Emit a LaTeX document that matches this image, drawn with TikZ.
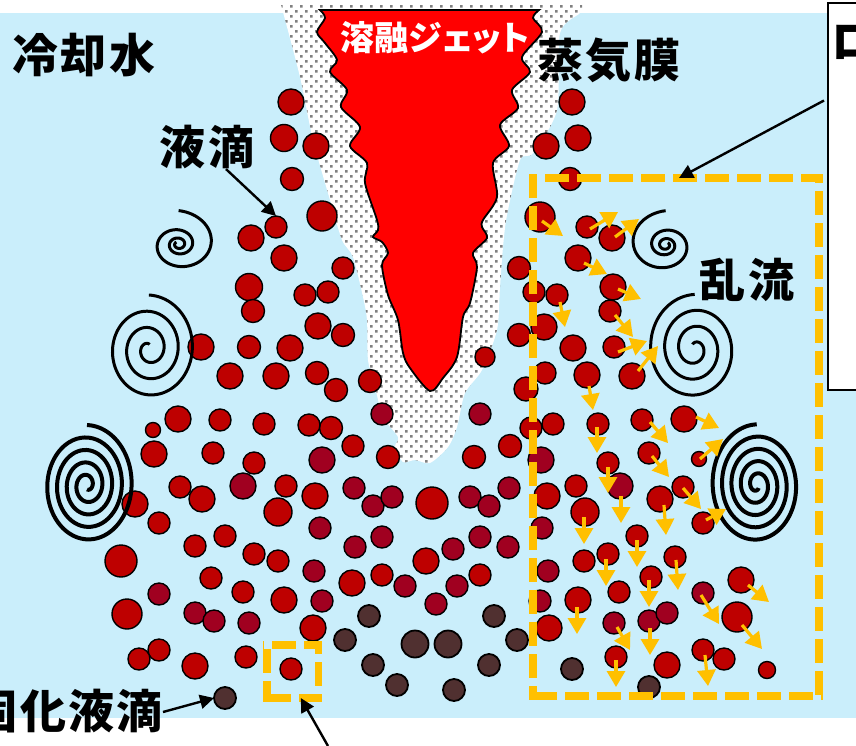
\documentclass[tikz,border=0pt]{standalone}
\usepackage{fontspec}
\usetikzlibrary{arrows.meta}
\newfontfamily\cjk{Noto Sans CJK JP}[LetterSpace=5]
\newfontfamily\cjkp{Noto Sans CJK JP}[RawFeature=+palt]
\definecolor{seawater}{HTML}{CAEEFB}
\definecolor{dropred}{HTML}{BE0000}
\definecolor{dropplum}{HTML}{A00020}
\definecolor{dropdark}{HTML}{503030}
\definecolor{flowor}{HTML}{FFC000}
\definecolor{dotgrey}{HTML}{808080}
\tikzset{
  drop/.style={circle,draw=black,line width=1.4pt,inner sep=0pt,outer sep=0pt},
  redd/.style={drop,fill=dropred},
  plumd/.style={drop,fill=dropplum},
  darkd/.style={drop,fill=dropdark,line width=1.8pt},
  swirl/.style={draw=black,line cap=butt,line join=round},
  flow/.style={draw=flowor,line width=3.2pt,-{Triangle[length=16pt,width=18pt]}},
  zoneside/.style={draw=flowor,line width=7.5pt},
  zonemark/.style={inner sep=0pt,outer sep=0pt},
  lead/.style={draw=black,line width=2.4pt,-{Triangle[length=14pt,width=14pt]}},
  biglabel/.style={font=\cjk\bfseries\fontsize{46}{46}\selectfont,text=black,inner sep=0pt},
}
% linear spiral: centre x, centre y, x squeeze, start radius, pitch, side, end angle
\newcommand{\linswirl}[7]{\draw[swirl] plot[domain=0:#7,samples=260,variable=\ang,smooth] ({#1+#6*#3*(#4-#5*(\ang/360))*sin(\ang)},{#2-(#4-#5*(\ang/360))*cos(\ang)});}
% shrinking spiral: centre x, centre y, x squeeze, start radius, ratio per turn, side, end angle
\newcommand{\logswirl}[7]{\draw[swirl] plot[domain=0:#7,samples=200,variable=\ang,smooth] ({#1+#6*#3*#4*pow(#5,\ang/360)*sin(\ang)},{#2-#4*pow(#5,\ang/360)*cos(\ang)});}
\begin{document}
\begin{tikzpicture}[x=1pt,y=-1pt]
\useasboundingbox (0,0) rectangle (856,745);
\fill[white] (0,0) rectangle (856,745);
\fill[seawater] (0,13) rectangle (856,718);
% vapour film
\def\filmshape{plot[smooth,tension=.45] coordinates {(281,5)(283,12)(300,77)(313,140)(330,200)(342,240)(353,257)(363,297)(367,320)(368,360)(375,387)(383,417)(398,437)(395,447)(403,462)(415,460)(430,463)(448,447)(457,427)(465,393)(482,370)(497,330)(500,287)(503,247)(507,215)(520,160)(533,153)(557,110)(560,33)(580,13)(582,5)} -- cycle}
\fill[white] \filmshape;
\begin{scope}
\clip \filmshape;
\fill[dotgrey]
 \foreach \yy in {5,15,...,470}{\foreach \xx in {280,290,...,590}{(\xx,\yy) rectangle ++(2.5,2.5)}}
 \foreach \yy in {10,20,...,470}{\foreach \xx in {285,295,...,590}{(\xx,\yy) rectangle ++(2.5,2.5)}};
\end{scope}
% jet
\filldraw[fill=red,draw=black,line width=1.8pt] plot[smooth,tension=.5] coordinates {(320,10)(325,18)(317,32)(325,43)(337,60)(330,72)(347,90)(341,107)(360,127)(350,146)(367,163)(365,183)(377,220)(378,230)(373,237)(382,242)(388,253)(382,265)(388,295)(398,320)(403,353)(410,368)(430,391)(443,378)(457,357)(463,317)(470,303)(477,267)(473,253)(487,238)(482,227)(483,220)(497,197)(493,163)(509,146)(500,125)(518,108)(512,90)(530,72)(522,57)(542,32)(533,18)(539,10)} -- cycle;
\draw[black,line width=2.6pt] (320,10) -- (539,10);
\node[text=white,inner sep=0pt,font=\cjkp\bfseries\fontsize{34}{34}\selectfont] (jetlabel) at (435,38) {溶融ジェット};
% droplets
\foreach \xx/\yy/\rr [count=\n] in {
291/102/13,284/138/13.5,316/146/13,292/179/11.5,322/216/15,572/102/13,578/138/13,546/146/13,570/179/11.5,540/217/15,
251/238/13,284/258/13,249/287/13.5,253/311/11.5,343/268/11,305/295/11,328/292/11,318/326/13,343/335/11.5,249/347/11.5,290/348/13,230/376/13,276/376/13,317/373/11.5,336/390/11.5,370/381/11.5,201/347/13,
485/357/10,331/428/11.5,353/446/11,388/457/11.5,474/457/11.5,510/446/11.5,
519/268/11.5,534/292/11,557/295/11,544/327/13,573/348/13,519/335/11.5,526/389/12,545/373/11,531/428/11,553/424/11,547/496/13,549/628/13,
432/503/16,426/561/13,352/583/13,382/575/11,480/575/11,
178/419/13,153/430/7.5,154/454/13,220/420/11,213/453/11,264/424/11,309/425/11,254/463/11,180/487/11,202/499/13,286/486/11,315/496/13,278/512/14,135/504/13,159/523/11,195/546/11,225/536/11,254/554/11,278/561/11,121/561/16,127/614/15,211/578/11,243/592/11,284/600/13,313/628/13,159/650/11,139/659/11,195/666/13,246/657/11,291/669/11,
587/227/11,612/238/13,578/258/13,613/287/13,610/311/11,614/347/11,632/376/13,587/375/13,598/424/11,642/420/11,684/419/13,
608/463/11,649/453/11,699/459/7.5,576/486/11,585/512/14,660/499/13,683/487/11,703/523/11,637/536/11,608/554/11,584/561/11,675/557/11,651/577/11,619/592/11,578/600/13,741/580/13,737/617/15,616/657/11,667/665/13,703/650/11,724/659/11,767/670/8.5}
{\node[redd,minimum size=2*\rr*1pt] (red\n) at (\xx,\yy) {};}
\foreach \xx/\yy/\rr [count=\n] in {
382/414/11,480/414/11,541/460/13,322/460/13,243/486/13,354/488/11,373/506/11,392/497/11,470/497/11,489/506/11,509/488/11,355/547/11,382/537/11,453/549/11,480/537/11,508/547/11,405/586/11,457/586/11,436/604/11,320/528/11,314/571/11,159/594/11,322/601/11,195/613/11,214/621/11,249/623/11,
620/486/13,542/528/11,548/571/11,540/601/11,614/623/11,649/621/11,667/613/11,703/593/11}
{\node[plumd,minimum size=2*\rr*1pt] (plum\n) at (\xx,\yy) {};}
\foreach \xx/\yy/\rr [count=\n] in {
369/616/11,345/640/11,415/644/13.5,448/644/13.5,494/616/11,517/640/11,373/665/11,489/665/11,397/685/11,454/690/11,572/669/11,649/687/11}
{\node[darkd,minimum size=2*\rr*1pt] (dark\n) at (\xx,\yy) {};}
\node[redd,minimum size=22pt] (dropA) at (276,227) {};
\node[darkd,minimum size=22pt] (dropS) at (225,698) {};
% swirls
\begin{scope}[line width=3pt]
\logswirl{178.6}{244.3}{1.188}{33.7}{.43}{1}{1040}
\logswirl{665.6}{245}{1.159}{34.3}{.43}{-1}{1040}
\linswirl{148.9}{349}{.87}{54}{16.3}{1}{1090}
\linswirl{694.7}{348.7}{.874}{54.3}{16}{-1}{1110}
\end{scope}
\begin{scope}[line width=4pt]
\linswirl{87}{485.3}{.78}{60.3}{12.5}{1}{1620}
\linswirl{756.7}{485}{.7645}{60.7}{12.3}{-1}{1660}
\end{scope}
% labels
\node[biglabel] (lblwater) at (84,55) {冷却水};
\node[biglabel] (lblfilm) at (609,60) {蒸気膜};
\node[biglabel] (lbldrop) at (207,147) {液滴};
\node[biglabel] (lblturb) at (747,280) {乱流};
\node[biglabel,anchor=east] (lblsolid) at (163,711) {固化液滴};
% panel
\node[draw=black,fill=white,line width=2.6pt,anchor=north west,minimum width=80pt,minimum height=387pt,inner sep=0pt,outer sep=0pt] (panel) at (828,3) {};
\node[anchor=west,inner sep=0pt,font=\cjk\bfseries\fontsize{46}{46}\selectfont] (paneltext) at (831,42) {ロ};
% dashed zones
\node[zonemark,minimum width=286pt,minimum height=518pt] (bigzone) at (676,437) {};
\draw[zoneside,dash pattern=on 24pt off 8pt,dash phase=16.25pt] ([xshift=-3.75pt]bigzone.north west) -- ([xshift=3.75pt]bigzone.north east);
\draw[zoneside,dash pattern=on 24pt off 8pt,dash phase=15.25pt] ([yshift=3.75pt]bigzone.north east) -- ([yshift=-3.75pt]bigzone.south east);
\draw[zoneside,dash pattern=on 24pt off 8pt,dash phase=0pt] (bigzone.south west) -- ([xshift=3.75pt]bigzone.south east);
\draw[zoneside,dash pattern=on 24pt off 8pt,dash phase=.25pt] ([yshift=3.75pt]bigzone.north west) -- ([yshift=-3.75pt]bigzone.south west);
\node[zonemark,minimum width=51.5pt,minimum height=53pt] (smallzone) at (292.75,671.5) {};
\draw[zoneside,dash pattern=on 24pt off 8pt,dash phase=23.25pt] ([xshift=-3.75pt]smallzone.north west) -- ([xshift=3.75pt]smallzone.north east);
\draw[zoneside,dash pattern=on 24pt off 8pt,dash phase=11.25pt] ([yshift=3.75pt]smallzone.north east) -- ([yshift=-3.75pt]smallzone.south east);
\draw[zoneside,dash pattern=on 24pt off 8pt,dash phase=0pt] (smallzone.south west) -- ([xshift=3.75pt]smallzone.south east);
\draw[zoneside,dash pattern=on 24pt off 8pt,dash phase=24.25pt] ([yshift=3.75pt]smallzone.north west) -- ([yshift=-3.75pt]smallzone.south west);
% flow arrows
\foreach \ax/\ay/\bx/\by [count=\n] in {
542/221/563/236,590/229/618/212,615/237/639/219,584/263/607/274,618/289/641/299,560/302/565/327,615/315/633/337,618/352/647/341,638/371/658/346,589/386/593/410,
597/427/597/453,650/422/668/443,696/417/719/428,700/459/723/439,652/456/669/477,608/467/608/493,683/488/701/509,621/496/621/523,584/517/584/544,664/505/666/535,706/520/726/509,637/540/637/567,606/559/606/586,676/560/678/590,649/580/649/607,577/607/577/634,617/627/630/650,701/595/719/624,748/585/769/602,650/628/650/655,742/625/762/649,616/660/616/687,705/655/708/686}
{\coordinate (fs\n) at (\ax,\ay); \coordinate (fe\n) at (\bx,\by); \draw[flow] (fs\n) -- (fe\n);}
% leaders
\coordinate (freetail) at (328,746);
\draw[lead] ([xshift=19pt]lbldrop.south) -- (dropA.north);
\draw[lead] ([yshift=-1pt]lblsolid.east) -- (dropS.west);
\draw[lead] (freetail) -- ([xshift=8pt]smallzone.south);
\draw[lead] ([xshift=-4pt,yshift=96pt]panel.west) -- ([xshift=3pt]bigzone.north);
\end{tikzpicture}
\end{document}
